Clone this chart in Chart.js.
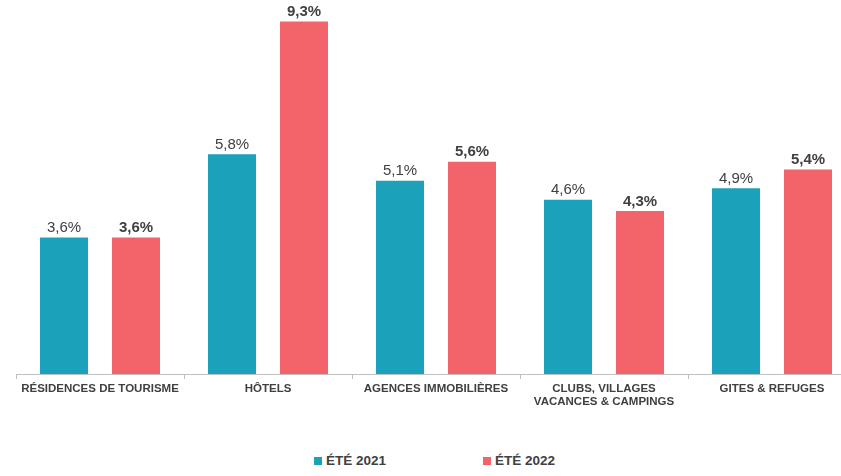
<!DOCTYPE html>
<html>
<head>
<meta charset="utf-8">
<script src="https://cdn.jsdelivr.net/npm/chart.js@4"></script>
<style>
    html, body { margin: 0; padding: 0; background: #fff; overflow: hidden; }
    #wrap { position: relative; width: 870px; height: 476px; }
    #chart-box { position: absolute; left: 0; top: 0; width: 870px; height: 420px; }
    .leg { position: absolute; top: 453px; font: bold 13.5px "Liberation Sans", Arial, sans-serif; color: #404040; white-space: nowrap; }
    .leg i { display: inline-block; width: 8px; height: 8px; margin-right: 4px; }
</style>
</head>
<body>
<div id="wrap">
    <div id="chart-box"><canvas id="chart" width="870" height="420"></canvas></div>
    <div id="legend"></div>
</div>
<script>
const categories = [
    'RÉSIDENCES DE TOURISME',
    'HÔTELS',
    'AGENCES IMMOBILIÈRES',
    ['CLUBS, VILLAGES', 'VACANCES & CAMPINGS'],
    'GITES & REFUGES'
];
const ete2021 = [3.6, 5.8, 5.1, 4.6, 4.9];
const ete2022 = [3.6, 9.3, 5.6, 4.3, 5.4];
const seriesNames = ['ÉTÉ 2021', 'ÉTÉ 2022'];
const seriesColors = ['#1ba1b9', '#f2636a'];

// value labels above bars (2022 in bold)
const valueLabels = {
    id: 'valueLabels',
    afterDatasetsDraw(chart) {
        const ctx = chart.ctx;
        ctx.save();
        ctx.textAlign = 'center';
        ctx.textBaseline = 'bottom';
        ctx.fillStyle = '#404040';
        chart.data.datasets.forEach((ds, i) => {
            ctx.font = (i === 1 ? 'bold ' : '') + '15px "Liberation Sans", Arial, sans-serif';
            chart.getDatasetMeta(i).data.forEach((bar, j) => {
                const txt = ds.data[j].toFixed(1).replace('.', ',') + '%';
                ctx.fillText(txt, bar.x, bar.y - 2);
            });
        });
        ctx.restore();
    }
};

new Chart(document.getElementById('chart').getContext('2d'), {
    type: 'bar',
    data: {
        labels: categories,
        datasets: [
            { label: seriesNames[0], data: ete2021, backgroundColor: seriesColors[0] },
            { label: seriesNames[1], data: ete2022, backgroundColor: seriesColors[1] }
        ]
    },
    options: {
        responsive: false,
        animation: false,
        layout: { padding: { left: 16, right: 14, top: 0, bottom: 0 } },
        categoryPercentage: 0.857,
        barPercentage: 0.667,
        plugins: {
            legend: { display: false },
            tooltip: { enabled: false }
        },
        scales: {
            y: { display: false, min: 0, max: 9.87 },
            x: {
                afterFit(scale) { scale.height = 46; },
                border: { color: '#bfbfbf' },
                grid: { offset: true, drawOnChartArea: false, tickLength: 5, color: '#bfbfbf' },
                ticks: {
                    color: '#404040',
                    padding: 3,
                    maxRotation: 0,
                    autoSkip: false,
                    font: { family: '"Liberation Sans", Arial, sans-serif', size: 11.5, weight: 'bold', lineHeight: 1.15 }
                }
            }
        }
    },
    plugins: [valueLabels]
});

// legend items placed under the chart like the original
const legendLeft = [314, 483];
document.getElementById('legend').innerHTML = seriesNames.map((n, i) =>
    `<span class="leg" style="left:${legendLeft[i]}px"><i style="background:${seriesColors[i]}"></i>${n}</span>`).join('');
</script>
</body>
</html>
